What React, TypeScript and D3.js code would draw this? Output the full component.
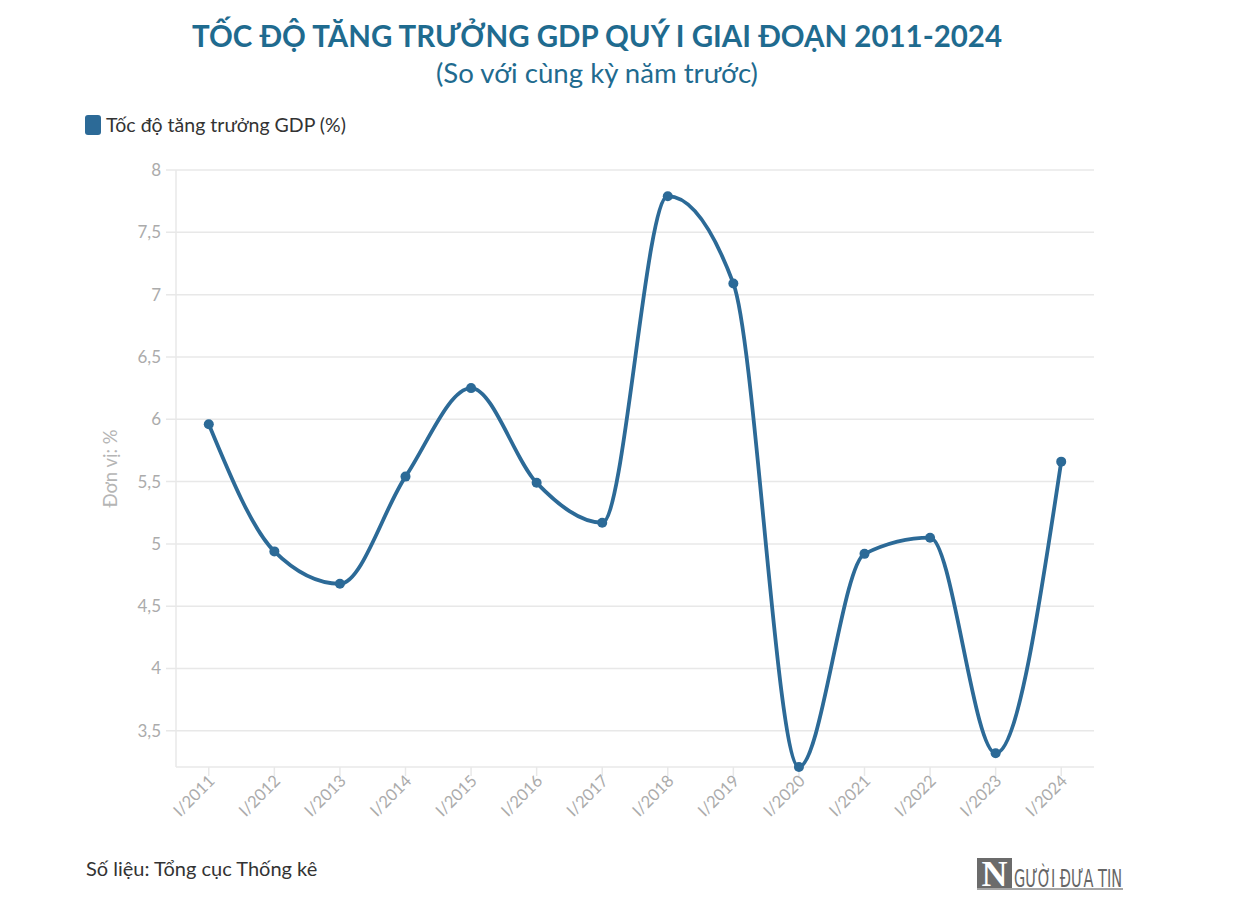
import React, { useEffect } from "react";
import * as d3 from "d3";

const categories = [
  "I/2011", "I/2012", "I/2013", "I/2014", "I/2015", "I/2016", "I/2017",
  "I/2018", "I/2019", "I/2020", "I/2021", "I/2022", "I/2023", "I/2024",
];
const gdpGrowth = [5.96, 4.94, 4.68, 5.54, 6.25, 5.49, 5.17, 7.79, 7.09, 3.21, 4.92, 5.05, 3.32, 5.66];
const yTicks = [3.5, 4, 4.5, 5, 5.5, 6, 6.5, 7, 7.5, 8];

const W = 1243;
const H = 907;
const FONT = "'Source Sans Pro', Lato, 'Open Sans', sans-serif";
const LINE = "#2c6a97";
const GRID = "#e8e8e8";
const TICK_TEXT = "#ababab";

const App = () => {
  useEffect(() => {
    document.body.style.margin = "0";
  }, []);

  const left = 176;
  const right = 1094;
  const top = 170;
  const bottom = 767;

  const x = d3.scaleBand<string>().domain(categories).range([left, right]).padding(0);
  const cx = (c: string) => (x(c) ?? 0) + x.bandwidth() / 2;
  const y = d3
    .scaleLinear()
    .domain([d3.min(gdpGrowth) ?? 3, 8])
    .range([bottom, top]);

  const line = d3
    .line<number>()
    .x((_, i) => cx(categories[i]))
    .y((d) => y(d))
    .curve(d3.curveMonotoneX);

  const fmt = (v: number) => String(v).replace(".", ",");

  return (
    <svg width={W} height={H} style={{ display: "block", background: "#fff" }}>
      <text x={597} y={47} textAnchor="middle" fontFamily={FONT} fontWeight={700} fontSize={31} fill="#1f6b8f"
        textLength={810} lengthAdjust="spacingAndGlyphs">
        TỐC ĐỘ TĂNG TRƯỞNG GDP QUÝ I GIAI ĐOẠN 2011-2024
      </text>
      <text x={597} y={83} textAnchor="middle" fontFamily={FONT} fontSize={27} fill="#1f6b8f"
        textLength={322} lengthAdjust="spacingAndGlyphs">
        (So với cùng kỳ năm trước)
      </text>

      {/* legend */}
      <rect x={85} y={115} width={16} height={20} rx={3} fill={LINE} />
      <text x={106} y={132} fontFamily={FONT} fontSize={19.5} fill="#333">
        Tốc độ tăng trưởng GDP (%)
      </text>

      {/* grid + y axis */}
      {yTicks.map((t) => (
        <g key={t}>
          <line x1={left - 10} x2={right} y1={y(t)} y2={y(t)} stroke={GRID} strokeWidth={1.5} />
          <text x={161} y={y(t)} dy="0.35em" textAnchor="end" fontFamily={FONT} fontSize={17} fill={TICK_TEXT}>
            {fmt(t)}
          </text>
        </g>
      ))}
      <line x1={left} x2={left} y1={top} y2={bottom} stroke={GRID} strokeWidth={1.5} />
      <line x1={left} x2={right} y1={bottom} y2={bottom} stroke={GRID} strokeWidth={1.5} />
      <text transform={`translate(117,${(top + bottom) / 2}) rotate(-90)`} textAnchor="middle"
        fontFamily={FONT} fontSize={18.5} fill="#b5b5b5">
        Đơn vị: %
      </text>

      {/* x axis */}
      {categories.map((c) => (
        <g key={c}>
          <line x1={cx(c)} x2={cx(c)} y1={bottom} y2={bottom + 9} stroke={GRID} strokeWidth={1.5} />
          <text transform={`translate(${cx(c) + 7},${bottom + 15}) rotate(-45)`} textAnchor="end"
            fontFamily={FONT} fontSize={16.5} fill={TICK_TEXT}>
            {c}
          </text>
        </g>
      ))}

      {/* series */}
      <path d={line(gdpGrowth) ?? ""} fill="none" stroke={LINE} strokeWidth={3.8} />
      {gdpGrowth.map((v, i) => (
        <circle key={categories[i]} cx={cx(categories[i])} cy={y(v)} r={5} fill={LINE} />
      ))}

      {/* footer */}
      <text x={86} y={876} fontFamily={FONT} fontSize={20} fill="#333">
        Số liệu: Tổng cục Thống kê
      </text>
      <g>
        <rect x={977} y={858} width={35} height={30} fill="#6b6b6b" />
        <text x={994.5} y={886} textAnchor="middle" fontFamily="'Liberation Serif', serif" fontWeight={700}
          fontSize={36} fill="#fff">
          N
        </text>
        <text x={1014} y={887} fontFamily="'Liberation Sans Narrow', 'DejaVu Sans Condensed', sans-serif"
          fontSize={25} fill="#666" textLength={108} lengthAdjust="spacingAndGlyphs">
          GƯỜI ĐƯA TIN
        </text>
        <line x1={977} x2={1123} y1={889} y2={889} stroke="#888" strokeWidth={1.5} />
      </g>
    </svg>
  );
};

export default App;
